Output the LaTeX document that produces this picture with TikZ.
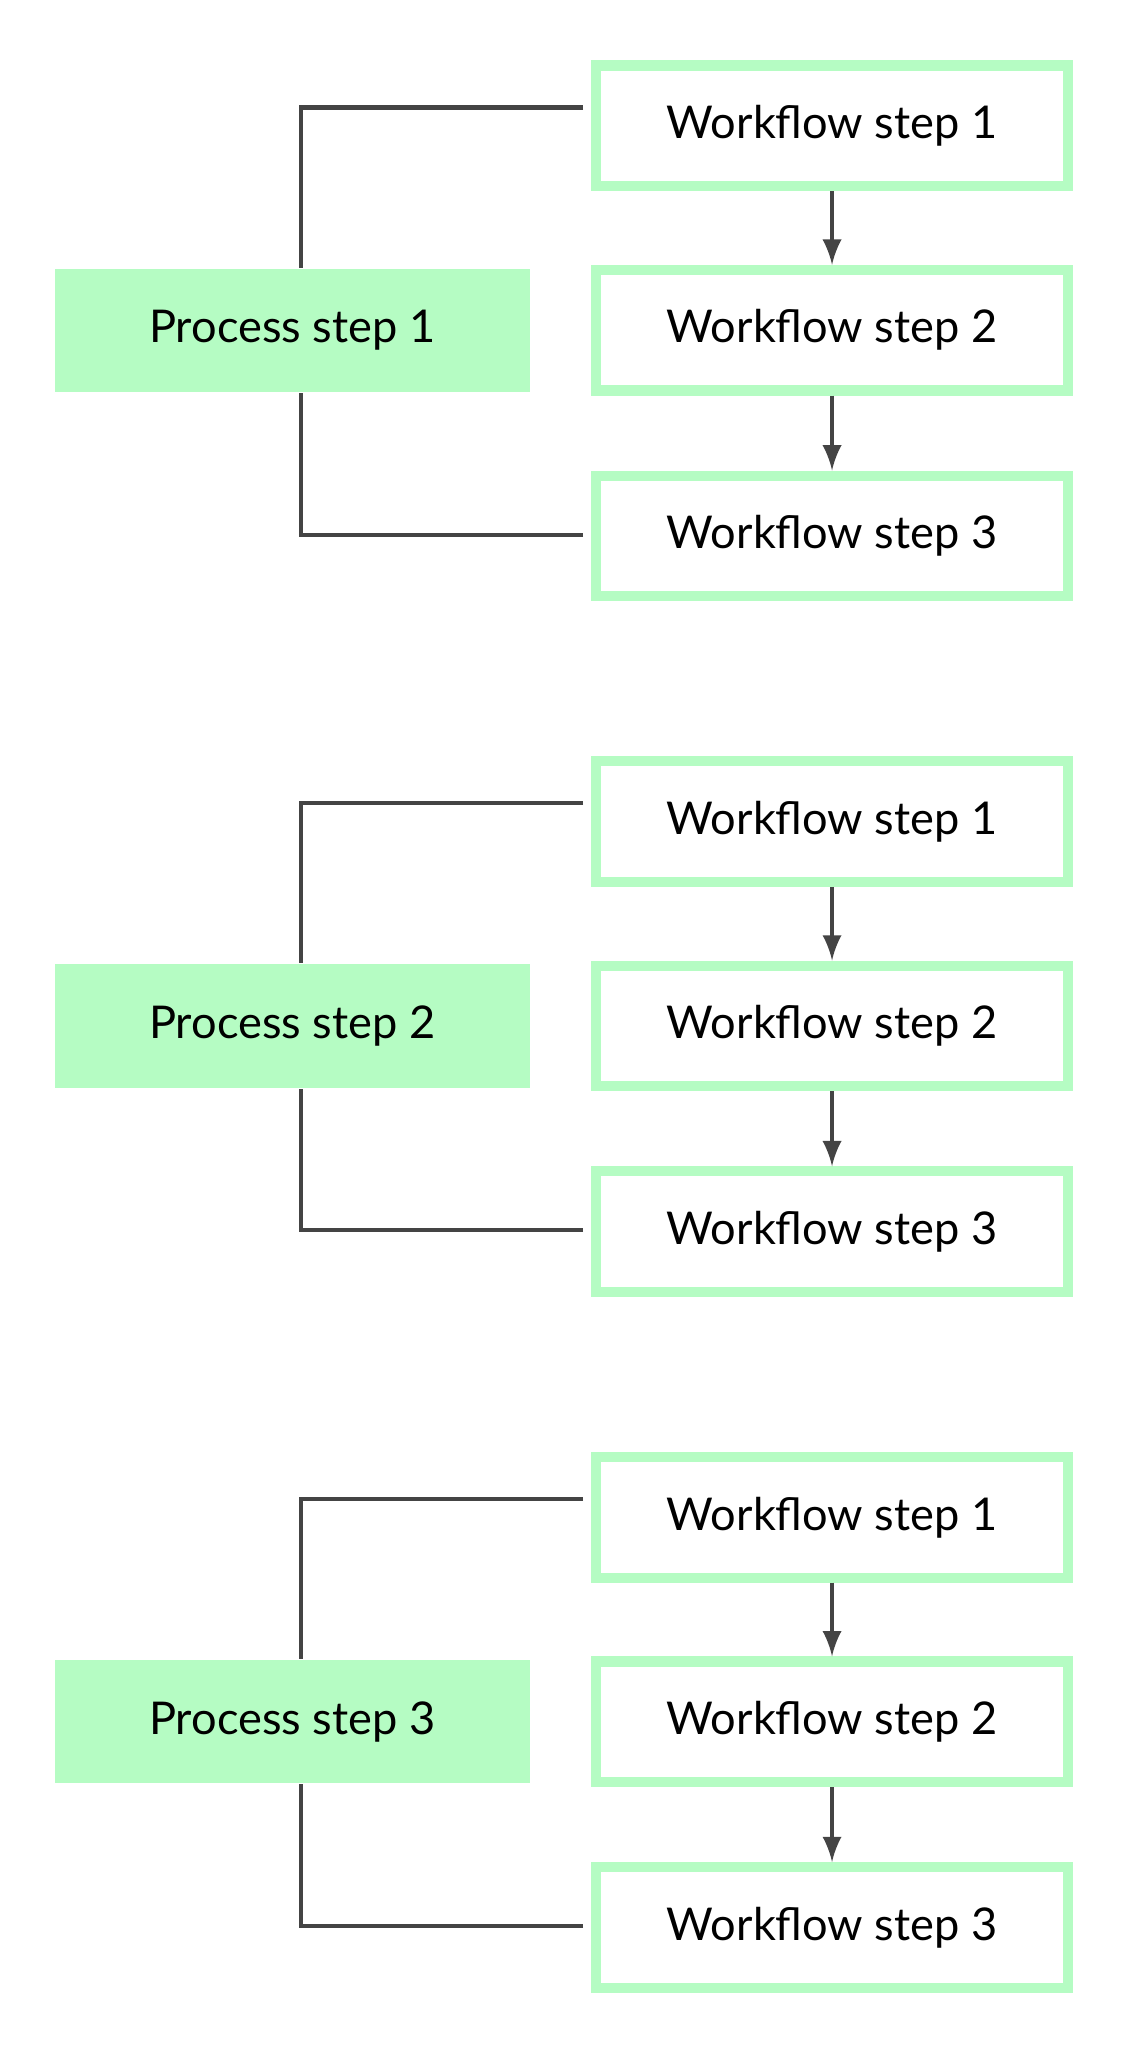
\documentclass[tikz,border=0pt]{standalone}
\usepackage{fontspec}
\setmainfont{Lato}
\usetikzlibrary{positioning}
\definecolor{mint}{HTML}{B5FCC3}
\definecolor{wire}{HTML}{444444}
\begin{document}
\begin{tikzpicture}
  [x=0.01cm,y=-0.01cm,font=\fontsize{9.8}{12}\selectfont]
      \tikzset{work_style/.style={draw=mint, line width=2.2pt, fill=white, minimum width=3.6cm, minimum height=0.92cm, inner sep=0pt}}
      \tikzset{proc_style/.style={fill=mint, minimum width=3.62cm, minimum height=0.94cm, inner sep=0pt}}
      \tikzset{edge_style/.style={draw=wire, line width=0.9pt}}
  \useasboundingbox (0,0) rectangle (860,1563);
  \foreach \g/\dy in {1/0, 2/531, 3/1062} {
    \node[proc_style] (p\g) at (223, 252+\dy) {Process step \g};
    \node[work_style] (w\g a) at (635, 96+\dy) {Workflow step 1};
    \node[work_style] (w\g b) at (635, 252+\dy) {Workflow step 2};
    \node[work_style] (w\g c) at (635, 409+\dy) {Workflow step 3};
    \coordinate (t\g) at (445, 82+\dy);
    \coordinate (u\g) at (445, 408+\dy);
    \draw[edge_style] (t\g) -| ([xshift=0.07cm]p\g.north);
    \draw[edge_style] (u\g) -| ([xshift=0.07cm]p\g.south);
    \draw[edge_style, -latex] (w\g a) -- (w\g b);
    \draw[edge_style, -latex] (w\g b) -- (w\g c);
  }
\end{tikzpicture}
\end{document}
